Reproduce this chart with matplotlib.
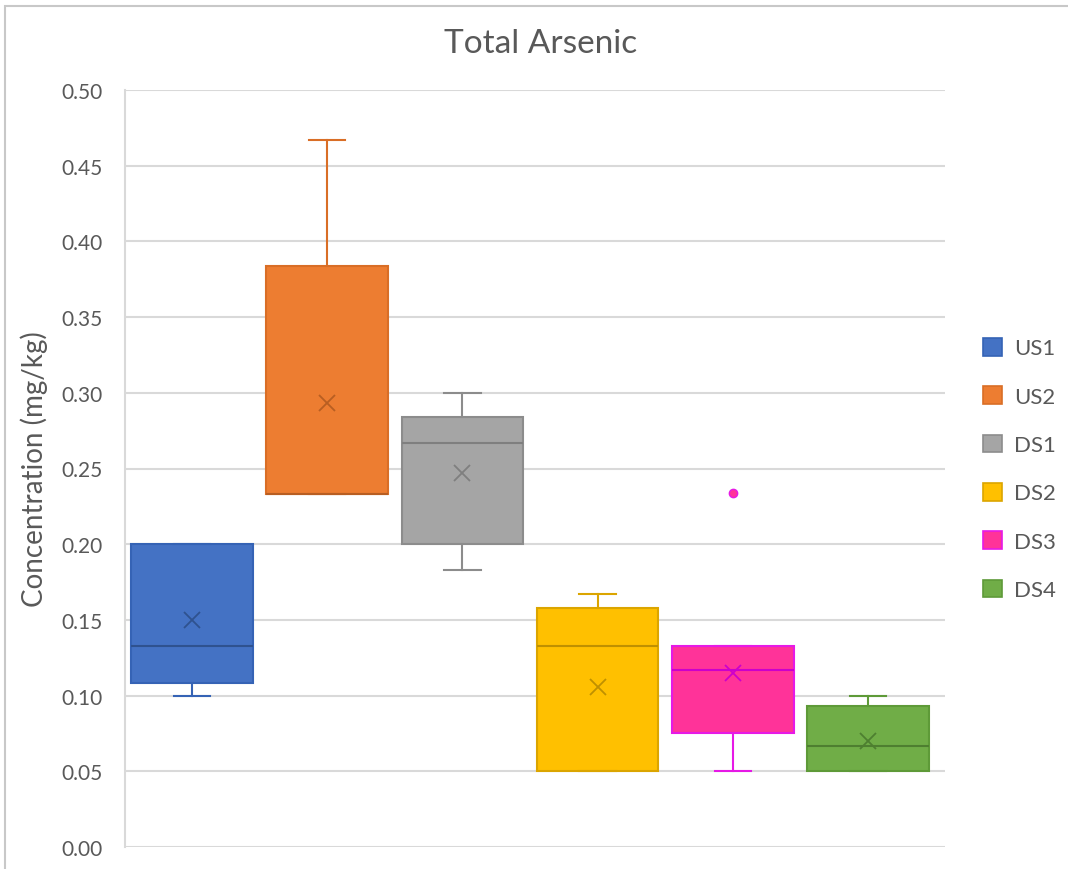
import matplotlib
matplotlib.use("Agg")
import matplotlib.pyplot as plt
from matplotlib.patches import Rectangle, Patch

plt.rcParams['font.family'] = ['Lato', 'DejaVu Sans']

# Summary statistics for each sampling site (mg/kg)
sites = ["US1", "US2", "DS1", "DS2", "DS3", "DS4"]
whisker_low = [0.100, 0.233, 0.183, 0.050, 0.050, 0.050]
q1 = [0.108, 0.233, 0.200, 0.050, 0.075, 0.050]
median = [0.133, 0.233, 0.267, 0.133, 0.117, 0.067]
q3 = [0.200, 0.384, 0.284, 0.158, 0.133, 0.093]
whisker_high = [0.200, 0.467, 0.300, 0.167, 0.133, 0.100]
mean = [0.150, 0.293, 0.247, 0.106, 0.115, 0.070]
outliers = [[], [], [], [], [0.234], []]

yticks = [0.00, 0.05, 0.10, 0.15, 0.20, 0.25, 0.30, 0.35, 0.40, 0.45, 0.50]

fills = ["#4472C4", "#ED7D31", "#A5A5A5", "#FFC000", "#FF3399", "#70AD47"]
edges = ["#3563B5", "#D96E26", "#8C8C8C", "#DBA500", "#E619E6", "#5E9A38"]
marks = ["#2F528F", "#B85E22", "#7F7F7F", "#BF9000", "#CC00CC", "#4E7F30"]

W, H = 1068, 870
fig = plt.figure(figsize=(W / 100, H / 100), dpi=100)
fig.patch.set_facecolor("white")

# chart-area border
fig.add_artist(Rectangle((5 / W, -0.05), 1.2, 1 - 7 / H + 0.05,
                         transform=fig.transFigure, fill=False,
                         edgecolor="#C8C8C8", linewidth=1.5))

left, right, top, bottom = 125, 945, 91, 848
ax = fig.add_axes([left / W, 1 - bottom / H, (right - left) / W, (bottom - top) / H])

positions = list(range(1, len(sites) + 1))
for i, name in enumerate(sites):
    stats = [dict(med=median[i], q1=q1[i], q3=q3[i], whislo=whisker_low[i],
                  whishi=whisker_high[i], mean=mean[i], fliers=outliers[i], label=name)]
    ax.bxp(stats, positions=[positions[i]], widths=0.90, capwidths=0.27,
           patch_artist=True, showmeans=True, zorder=3,
           boxprops=dict(facecolor=fills[i], edgecolor=edges[i], linewidth=1.5),
           medianprops=dict(color=marks[i], linewidth=1.5),
           whiskerprops=dict(color=edges[i], linewidth=1.5),
           capprops=dict(color=edges[i], linewidth=1.5),
           meanprops=dict(marker="x", markersize=11, markeredgecolor=marks[i],
                          markeredgewidth=1.3, linestyle="none"),
           flierprops=dict(marker="o", markersize=6, markerfacecolor=fills[i],
                           markeredgecolor=edges[i], markeredgewidth=1.0,
                           linestyle="none"))

ax.set_xlim(1 - 67 / 135.2, 1 + 753 / 135.2)
ax.set_ylim(0, 0.5)
ax.set_yticks(yticks)
ax.set_yticklabels([f"{v:.2f}" for v in yticks])
ax.set_xticks([])
ax.tick_params(axis="y", length=0, pad=16, labelsize=15, labelcolor="#595959")
ax.yaxis.grid(True, color="#D9D9D9", linewidth=1.5, zorder=0)
ax.set_axisbelow(True)
for s in ["top", "right", "bottom"]:
    ax.spines[s].set_visible(False)
ax.spines["left"].set_color("#D9D9D9")
ax.spines["left"].set_linewidth(1.5)

ax.set_ylabel("Concentration (mg/kg)", fontsize=20, color="#595959", labelpad=10)
fig.text(541 / W, 1 - 44 / H, "Total Arsenic", ha="center", va="center",
         fontsize=24, color="#595959")

handles = [Patch(facecolor=fills[i], edgecolor=edges[i], linewidth=1.2, label=sites[i])
           for i in range(len(sites))]
fig.legend(handles=handles, loc="center left",
           bbox_to_anchor=(963 / W, 1 - 470 / H), frameon=False,
           fontsize=16, labelcolor="#595959", handlelength=0.85, handleheight=0.85,
           handletextpad=0.55, labelspacing=1.25)

fig.savefig("out.png", dpi=100, facecolor="white")
